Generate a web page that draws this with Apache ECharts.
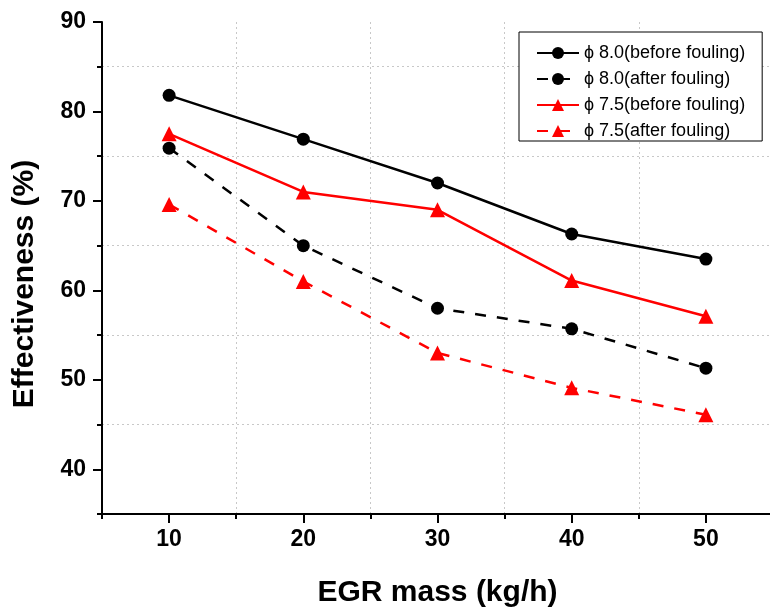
<!DOCTYPE html>
<html>
<head>
<meta charset="utf-8">
<script src="https://cdn.jsdelivr.net/npm/echarts@6/dist/echarts.min.js"></script>
<style>
html,body{margin:0;padding:0;background:#fff;}
#chart{width:770px;height:613px;}
</style>
</head>
<body>
<div id="chart"></div>
<script>
// EGR mass (kg/h) vs effectiveness (%)
var egrMass = [10, 20, 30, 40, 50];
var phi80Before = [81.8, 76.9, 72.0, 66.3, 63.5];
var phi80After = [75.9, 65.0, 58.0, 55.7, 51.3];
var phi75Before = [77.5, 71.0, 69.0, 61.1, 57.1];
var phi75After = [69.6, 61.0, 53.0, 49.1, 46.1];
var xMajorTicks = [10, 20, 30, 40, 50];
var yMajorTicks = [40, 50, 60, 70, 80, 90];
var seriesNames = ['\u03d5 8.0(before fouling)', '\u03d5 8.0(after fouling)', '\u03d5 7.5(before fouling)', '\u03d5 7.5(after fouling)'];

function pairs(ys){
	var out = [];
	for (var i = 0; i < egrMass.length; i++) {
		out.push([egrMass[i], ys[i]]);
	}
	return out;
}

var font = 'Liberation Sans, Arial, sans-serif';
var gridDots = {show: true, showMinLine: false, showMaxLine: false, lineStyle: {color: '#c8c8c8', width: 1, type: [2, 3]}};

function mkSeries(name, ys, color, symbol, dashed){
	return {
		name: name,
		type: 'line',
		xAxisIndex: 0,
		yAxisIndex: 0,
		data: pairs(ys),
		symbol: symbol,
		symbolSize: symbol == 'circle' ? 13 : 15,
		lineStyle: {color: color, width: 2.5, type: dashed ? [11, 11] : 'solid'},
		itemStyle: {color: color},
		emphasis: {disabled: true},
		animation: false
	};
}

var option = {
	backgroundColor: '#fff',
	animation: false,
	grid: {left: 102, top: 22, width: 671, height: 492, containLabel: false, outerBoundsMode: 'none'},
	legend: {
		left: 519,
		top: 32,
		orient: 'vertical',
		itemWidth: 42,
		itemHeight: 15,
		itemGap: 8,
		padding: [12, 17, 1, 17],
		borderColor: '#000',
		borderWidth: 1,
		backgroundColor: '#fff',
		textStyle: {fontFamily: font, fontSize: 18, lineHeight: 18, color: '#000'},
		data: seriesNames
	},
	xAxis: [
		{
			type: 'value', min: 5, max: 55, interval: 10, position: 'bottom',
			axisLine: {show: true, lineStyle: {color: '#000', width: 2}},
			axisTick: {show: true, length: 5, lineStyle: {color: '#000', width: 2}},
			axisLabel: {show: false},
			splitLine: gridDots
		},
		{
			type: 'value', min: 5, max: 55, position: 'bottom',
			axisLine: {show: false},
			axisTick: {show: true, length: 9, customValues: xMajorTicks, lineStyle: {color: '#000', width: 2}},
			axisLabel: {show: true, customValues: xMajorTicks, margin: 14, fontFamily: font, fontSize: 23, fontWeight: 'bold', color: '#000'},
			splitLine: {show: false},
			name: 'EGR mass (kg/h)',
			nameLocation: 'middle',
			nameGap: 64,
			nameTextStyle: {fontFamily: font, fontSize: 30, fontWeight: 'bold', color: '#000'}
		}
	],
	yAxis: [
		{
			type: 'value', min: 35, max: 90, interval: 10, position: 'left',
			axisLine: {show: true, lineStyle: {color: '#000', width: 2}},
			axisTick: {show: true, length: 5, lineStyle: {color: '#000', width: 2}},
			axisLabel: {show: false},
			splitLine: gridDots
		},
		{
			type: 'value', min: 35, max: 90, position: 'left',
			axisLine: {show: false},
			axisTick: {show: true, length: 9, customValues: yMajorTicks, lineStyle: {color: '#000', width: 2}},
			axisLabel: {show: true, customValues: yMajorTicks, margin: 16, fontFamily: font, fontSize: 23, fontWeight: 'bold', color: '#000'},
			splitLine: {show: false},
			name: 'Effectiveness (%)',
			nameLocation: 'middle',
			nameGap: 62,
			nameTextStyle: {fontFamily: font, fontSize: 30, fontWeight: 'bold', color: '#000', padding: [0, 32, 0, 0]}
		}
	],
	series: [
		mkSeries(seriesNames[0], phi80Before, '#000', 'circle', false),
		mkSeries(seriesNames[1], phi80After, '#000', 'circle', true),
		mkSeries(seriesNames[2], phi75Before, '#ff0000', 'triangle', false),
		mkSeries(seriesNames[3], phi75After, '#ff0000', 'triangle', true)
	]
};

var mychart = echarts.init(document.getElementById('chart'));
mychart.setOption(option);
</script>
</body>
</html>
